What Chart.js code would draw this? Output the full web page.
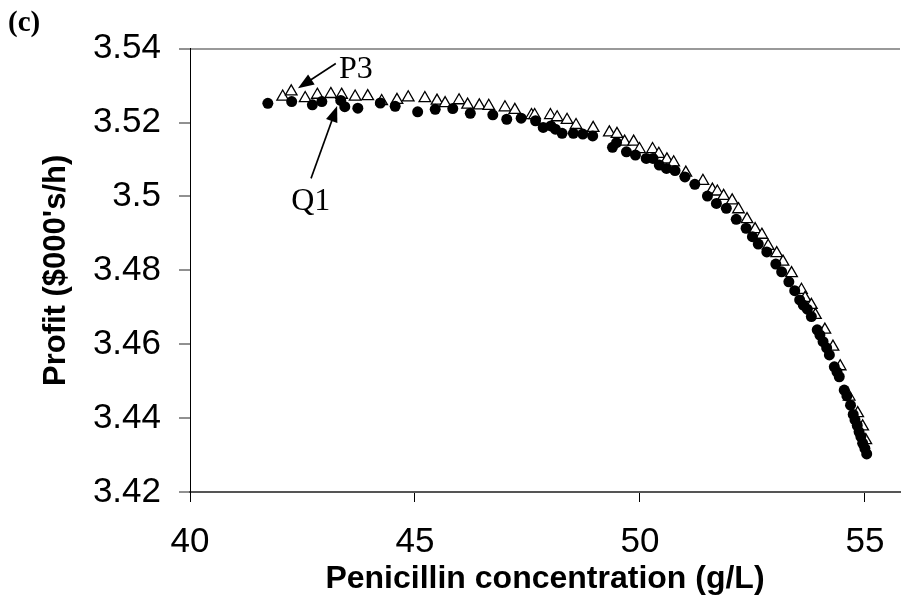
<!DOCTYPE html>
<html>
<head>
<meta charset="utf-8">
<title>Profit vs penicillin concentration</title>
<script src="https://cdn.jsdelivr.net/npm/chart.js@4.4.1/dist/chart.umd.min.js"></script>
<style>
  html, body { margin: 0; padding: 0; background: #fff; }
  #wrap { position: relative; width: 908px; height: 599px; }
</style>
</head>
<body>
<div id="wrap"><canvas id="profitChart" width="908" height="599"></canvas></div>
<script>
// Q1 (filled circles)
const q1Conc = [
    41.73, 42.26, 42.72, 42.93, 43.35, 43.44, 43.73, 44.23, 44.56, 45.06,
    45.45, 45.84, 46.23, 46.73, 47.04, 47.36, 47.68, 47.85, 48.02, 48.12,
    48.27, 48.52, 48.73, 48.95, 49.39, 49.48, 49.70, 49.90, 50.14, 50.29,
    50.43, 50.59, 50.78, 51.00, 51.22, 51.50, 51.70, 51.92, 52.14, 52.36,
    52.50, 52.63, 52.82, 53.02, 53.15, 53.31, 53.44, 53.55, 53.63, 53.72,
    53.81, 53.94, 54.00, 54.07, 54.15, 54.21, 54.32, 54.38, 54.43, 54.54,
    54.60, 54.68, 54.74, 54.78, 54.83, 54.87, 54.91, 54.95, 55.00, 55.04
];
const q1Profit = [
    3.5252, 3.5257, 3.5248, 3.5257, 3.5260, 3.5243, 3.5239, 3.5253, 3.5244, 3.5229,
    3.5236, 3.5238, 3.5225, 3.5221, 3.5209, 3.5212, 3.5205, 3.5187, 3.5191, 3.5182,
    3.5171, 3.5171, 3.5169, 3.5164, 3.5133, 3.5146, 3.5121, 3.5112, 3.5103, 3.5103,
    3.5085, 3.5076, 3.5070, 3.5053, 3.5033, 3.5001, 3.4981, 3.4968, 3.4938, 3.4914,
    3.4891, 3.4871, 3.4850, 3.4817, 3.4796, 3.4769, 3.4745, 3.4720, 3.4706, 3.4695,
    3.4675, 3.4639, 3.4625, 3.4607, 3.4590, 3.4571, 3.4539, 3.4525, 3.4512, 3.4476,
    3.4460, 3.4435, 3.4410, 3.4395, 3.4380, 3.4363, 3.4350, 3.4332, 3.4318, 3.4303
];

// P3 (open triangles)
const p3Conc = [
    42.06, 42.25, 42.56, 42.83, 43.13, 43.37, 43.67, 43.95, 44.26, 44.60,
    44.85, 45.22, 45.49, 45.67, 45.98, 46.17, 46.43, 46.64, 47.00, 47.22,
    47.59, 47.66, 48.01, 48.16, 48.38, 48.58, 48.96, 49.32, 49.49, 49.66,
    49.86, 49.99, 50.28, 50.42, 50.60, 50.75, 51.02, 51.40, 51.61, 51.72,
    51.86, 52.05, 52.19, 52.38, 52.56, 52.71, 52.85, 53.04, 53.18, 53.37,
    53.59, 53.67, 53.81, 53.90, 54.11, 54.29, 54.45, 54.65, 54.84, 54.95,
    55.02
];
const p3Profit = [
    3.5270, 3.5284, 3.5266, 3.5275, 3.5277, 3.5275, 3.5270, 3.5271, 3.5258, 3.5261,
    3.5268, 3.5266, 3.5259, 3.5252, 3.5260, 3.5248, 3.5246, 3.5245, 3.5241, 3.5234,
    3.5220, 3.5220, 3.5220, 3.5214, 3.5207, 3.5193, 3.5185, 3.5173, 3.5169, 3.5148,
    3.5148, 3.5128, 3.5128, 3.5115, 3.5100, 3.5092, 3.5064, 3.5042, 3.5018, 3.5013,
    3.5001, 3.4989, 3.4965, 3.4938, 3.4911, 3.4896, 3.4866, 3.4846, 3.4823, 3.4792,
    3.4747, 3.4725, 3.4706, 3.4679, 3.4639, 3.4593, 3.4540, 3.4458, 3.4413, 3.4377,
    3.4340
];

const xTicks = [40, 45, 50, 55];
const yTicks = [3.42, 3.44, 3.46, 3.48, 3.5, 3.52, 3.54];

// arrow call-outs, in data units
const notes = [
    { text: 'P3', at: [43.31, 3.5321], from: [43.24, 3.5360], to: [42.40, 3.5293] },
    { text: 'Q1', at: [42.25, 3.4963], from: [42.69, 3.5049], to: [43.27, 3.5245] }
];

function toPoints(xs, ys) {
    return xs.map((v, i) => ({ x: v, y: ys[i] }));
}

const annotate = {
    id: 'annotate',
    afterDatasetsDraw(chart) {
        const { ctx, scales: { x, y } } = chart;
        ctx.save();
        ctx.fillStyle = '#000';
        ctx.strokeStyle = '#000';
        ctx.lineWidth = 1.6;
        notes.forEach(n => {
            const x0 = x.getPixelForValue(n.from[0]), y0 = y.getPixelForValue(n.from[1]);
            const x1 = x.getPixelForValue(n.to[0]), y1 = y.getPixelForValue(n.to[1]);
            const a = Math.atan2(y1 - y0, x1 - x0);
            const c = Math.cos(a), s = Math.sin(a);
            ctx.beginPath();
            ctx.moveTo(x0, y0);
            ctx.lineTo(x1 - 10 * c, y1 - 10 * s);
            ctx.stroke();
            ctx.beginPath();
            ctx.moveTo(x1, y1);
            ctx.lineTo(x1 - 16 * c + 6 * s, y1 - 16 * s - 6 * c);
            ctx.lineTo(x1 - 16 * c - 6 * s, y1 - 16 * s + 6 * c);
            ctx.closePath();
            ctx.fill();
            ctx.font = '32px "Liberation Serif", "Times New Roman", serif';
            ctx.textBaseline = 'alphabetic';
            ctx.textAlign = 'left';
            ctx.fillText(n.text, x.getPixelForValue(n.at[0]), y.getPixelForValue(n.at[1]));
        });
        // panel letter
        ctx.font = 'bold 29px "Liberation Serif", "Times New Roman", serif';
        ctx.fillText('(c)', 8, 31);
        ctx.restore();
    }
};

Chart.defaults.font.family = '"Liberation Sans", Arial, sans-serif';
Chart.defaults.color = '#000';

new Chart(document.getElementById('profitChart'), {
    type: 'scatter',
    data: {
        datasets: [
            {
                label: 'Q1',
                data: toPoints(q1Conc, q1Profit),
                pointStyle: 'circle',
                pointRadius: 5.5,
                backgroundColor: '#000',
                borderColor: '#000',
                borderWidth: 0
            },
            {
                label: 'P3',
                data: toPoints(p3Conc, p3Profit),
                pointStyle: 'triangle',
                pointRadius: 6.7,
                backgroundColor: '#fff',
                borderColor: '#000',
                borderWidth: 1.3
            }
        ]
    },
    options: {
        responsive: false,
        animation: false,
        events: [],
        layout: { padding: { top: 48.7, right: 2, left: 0, bottom: 0 } },
        plugins: {
            legend: { display: false },
            tooltip: { enabled: false }
        },
        scales: {
            x: {
                type: 'linear',
                min: 40,
                max: 55.78,
                afterBuildTicks: scale => { scale.ticks = xTicks.map(v => ({ value: v })); },
                afterFit: scale => { scale.height = 107; },
                ticks: {
                    font: { size: 35 },
                    padding: 19,
                    maxRotation: 0,
                    callback: v => String(v)
                },
                grid: {
                    drawOnChartArea: false,
                    tickLength: 10,
                    color: '#000',
                    lineWidth: 1
                },
                border: { color: '#555', width: 2 },
                title: {
                    display: true,
                    text: 'Penicillin concentration (g/L)',
                    font: { size: 32, weight: 'bold', lineHeight: 1.2 },
                    padding: { top: 0, bottom: 1 }
                }
            },
            y: {
                min: 3.42,
                max: 3.54,
                afterBuildTicks: scale => { scale.ticks = yTicks.map(v => ({ value: v })); },
                afterFit: scale => { scale.width = 190; },
                ticks: {
                    font: { size: 35 },
                    padding: 18,
                    callback: v => String(Math.round(v * 100) / 100)
                },
                grid: {
                    tickLength: 11,
                    color: c => (c.tick && Math.abs(c.tick.value - 3.54) < 1e-6) ? '#999' : 'rgba(0,0,0,0)',
                    lineWidth: 2,
                    tickColor: '#222',
                    tickWidth: 1
                },
                border: { color: '#000', width: 1 },
                title: {
                    display: true,
                    text: "Profit ($000's/h)",
                    font: { size: 31, weight: 'bold', lineHeight: 1.2 },
                    padding: { top: 38, bottom: 0 }
                }
            }
        }
    },
    plugins: [annotate]
});
</script>
</body>
</html>
